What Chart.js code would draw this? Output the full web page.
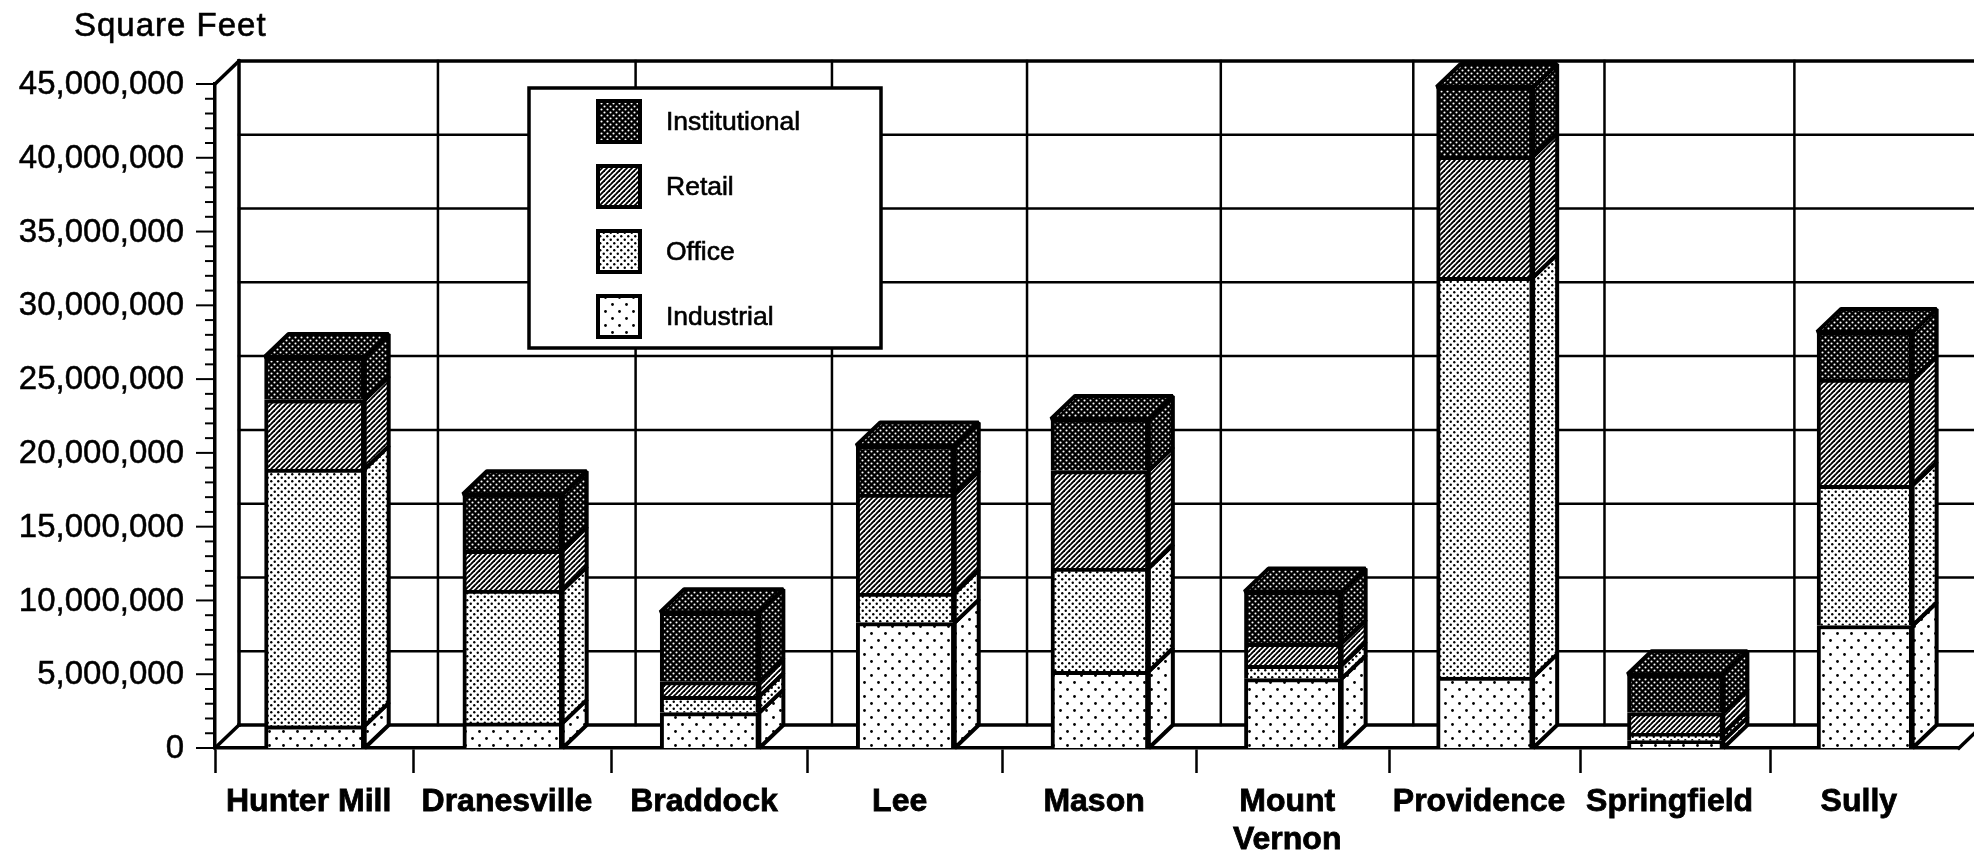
<!DOCTYPE html>
<html>
<head>
<meta charset="utf-8">
<title>Square Feet by District</title>
<style>
  html, body { margin: 0; padding: 0; background: #fff; }
  canvas { display: block; }
</style>
<script src="https://cdn.jsdelivr.net/npm/chart.js@4"></script>
</head>
<body>
<canvas id="districtChart" width="1974" height="851"></canvas>
<script>
const districts = ['Hunter Mill', 'Dranesville', 'Braddock', 'Lee', 'Mason', ['Mount', 'Vernon'], 'Providence', 'Springfield', 'Sully'];
const industrial = [1500000, 1700000, 2400000, 8500000, 5200000, 4700000, 4800000, 500000, 8300000];
const office = [17400000, 9000000, 1100000, 2000000, 7000000, 900000, 27100000, 500000, 9500000];
const retail = [4700000, 2700000, 1000000, 6700000, 6600000, 1500000, 8200000, 1400000, 7200000];
const institutional = [2900000, 3800000, 4700000, 3300000, 3500000, 3500000, 4700000, 2600000, 3200000];
const axisTitle = 'Square Feet';

const depthX = 24;
const depthY = 23;
const fontName = '"Liberation Sans", Arial, sans-serif';

// fill patterns, the scan is all black and white halftones
let makeTile = (size, paint) => {
  const tile = document.createElement('canvas');
  tile.width = size;
  tile.height = size;
  paint(tile.getContext('2d'));
  return document.createElement('canvas').getContext('2d').createPattern(tile, 'repeat');
};
let dots = (ctx, color, radius, spots) => {
  ctx.fillStyle = color;
  spots.forEach((s) => {
    ctx.beginPath();
    ctx.arc(s[0], s[1], radius, 0, Math.PI * 2);
    ctx.fill();
  });
};

const industrialFill = makeTile(14, (ctx) => {
  ctx.fillStyle = '#fff';
  ctx.fillRect(0, 0, 14, 14);
  dots(ctx, '#000', 1.4, [[3.5, 3.5], [10.5, 10.5]]);
});
const officeFill = makeTile(7, (ctx) => {
  ctx.fillStyle = '#fff';
  ctx.fillRect(0, 0, 7, 7);
  dots(ctx, '#000', 1.2, [[1.75, 1.75], [5.25, 5.25]]);
});
const retailFill = makeTile(5, (ctx) => {
  ctx.fillStyle = '#fff';
  ctx.fillRect(0, 0, 5, 5);
  ctx.strokeStyle = '#000';
  ctx.lineWidth = 1.9;
  [0, 5, 10].forEach((k) => {
    ctx.beginPath();
    ctx.moveTo(k + 1, -1);
    ctx.lineTo(-1, k + 1);
    ctx.stroke();
  });
});
const institutionalFill = makeTile(6, (ctx) => {
  ctx.fillStyle = '#000';
  ctx.fillRect(0, 0, 6, 6);
  dots(ctx, '#fff', 1.05, [[1.5, 1.5], [4.5, 4.5]]);
});

// the scanned page is slightly bent, the bands get narrower to the right
class BentCategoryScale extends Chart.CategoryScale {
  getPixelForDecimal(decimal) {
    return super.getPixelForDecimal(decimal + 0.03 * decimal * (1 - decimal));
  }
}
BentCategoryScale.id = 'bentCategory';
BentCategoryScale.defaults = Chart.CategoryScale.defaults;
Chart.register(BentCategoryScale);

let line = (ctx, x1, y1, x2, y2, width) => {
  ctx.lineWidth = width;
  ctx.beginPath();
  ctx.moveTo(x1, y1);
  ctx.lineTo(x2, y2);
  ctx.stroke();
};

const wallPlugin = {
  id: 'wall',
  beforeDatasetsDraw(chart) {
    const ctx = chart.ctx;
    const area = chart.chartArea;
    const xScale = chart.scales.x;
    const yScale = chart.scales.y;
    ctx.save();
    ctx.strokeStyle = '#000';
    ctx.lineCap = 'square';

    yScale.ticks.forEach((tick) => {
      const y = yScale.getPixelForValue(tick.value);
      const major = tick.value % 5000000 === 0;
      line(ctx, area.left - (major ? 18 : 9), y, area.left, y, 2);
      if (major) {
        const heavy = tick.value === 0 || tick.value === 45000000;
        line(ctx, area.left + depthX, y - depthY, chart.width, y - depthY, heavy ? 3.5 : 2.5);
      }
    });

    districts.forEach((d, i) => {
      const x = xScale.getPixelForValue(i - 0.5) + depthX;
      line(ctx, x, area.top - depthY, x, area.bottom - depthY, i === 0 ? 3.5 : 2.5);
    });

    // left wall and floor edges
    line(ctx, area.left, area.top, area.left + depthX, area.top - depthY, 3.5);
    line(ctx, area.left, area.bottom, area.left + depthX, area.bottom - depthY, 3.5);
    line(ctx, area.right, area.bottom, area.right + depthX, area.bottom - depthY, 3.5);
    ctx.restore();
  },
};

const blockPlugin = {
  id: 'blocks',
  afterDatasetsDraw(chart) {
    const ctx = chart.ctx;
    ctx.save();
    ctx.strokeStyle = '#000';
    ctx.lineWidth = 4;
    ctx.lineJoin = 'bevel';
    chart.data.datasets.forEach((dataset, d) => {
      chart.getDatasetMeta(d).data.forEach((bar) => {
        const left = bar.x - bar.width / 2;
        const right = bar.x + bar.width / 2;
        ctx.fillStyle = dataset.backgroundColor;

        ctx.beginPath();
        ctx.moveTo(right, bar.base);
        ctx.lineTo(right + depthX, bar.base - depthY);
        ctx.lineTo(right + depthX, bar.y - depthY);
        ctx.lineTo(right, bar.y);
        ctx.closePath();
        ctx.fill();
        ctx.stroke();

        if (d === chart.data.datasets.length - 1) {
          ctx.beginPath();
          ctx.moveTo(left, bar.y);
          ctx.lineTo(left + depthX, bar.y - depthY);
          ctx.lineTo(right + depthX, bar.y - depthY);
          ctx.lineTo(right, bar.y);
          ctx.closePath();
          ctx.fill();
          ctx.stroke();
        }
      });
    });
    ctx.restore();
  },
};

const keyPlugin = {
  id: 'key',
  afterDraw(chart) {
    const ctx = chart.ctx;
    ctx.save();
    ctx.fillStyle = '#fff';
    ctx.strokeStyle = '#000';
    ctx.lineWidth = 3.5;
    ctx.fillRect(529, 88, 352, 260);
    ctx.strokeRect(529, 88, 352, 260);

    ctx.font = '26.5px ' + fontName;
    ctx.textBaseline = 'middle';
    ctx.textAlign = 'left';
    [...chart.data.datasets].reverse().forEach((dataset, i) => {
      const top = 101 + i * 65;
      ctx.fillStyle = dataset.backgroundColor;
      ctx.lineWidth = 4;
      ctx.fillRect(598, top, 42, 41);
      ctx.strokeRect(598, top, 42, 41);
      ctx.fillStyle = '#000';
      ctx.lineWidth = 0.6;
      ctx.fillText(dataset.label, 666, top + 22);
      ctx.strokeText(dataset.label, 666, top + 22);
    });

    ctx.font = '33px ' + fontName;
    ctx.letterSpacing = '1px';
    ctx.fillText(axisTitle, 74, 27);
    ctx.strokeText(axisTitle, 74, 27);
    ctx.restore();
  },
};

new Chart(document.getElementById('districtChart'), {
  type: 'bar',
  data: {
    labels: districts,
    datasets: [
      { label: 'Industrial', data: industrial, backgroundColor: industrialFill },
      { label: 'Office', data: office, backgroundColor: officeFill },
      { label: 'Retail', data: retail, backgroundColor: retailFill },
      { label: 'Institutional', data: institutional, backgroundColor: institutionalFill },
    ],
  },
  plugins: [wallPlugin, blockPlugin, keyPlugin],
  options: {
    responsive: false,
    animation: false,
    layout: { padding: { top: 84, right: 15, left: 0, bottom: 0 } },
    datasets: {
      bar: { barThickness: 'flex', categoryPercentage: 0.505, barPercentage: 1, borderColor: '#000', borderWidth: 4 },
    },
    plugins: {
      legend: { display: false },
      tooltip: { enabled: false },
    },
    scales: {
      x: {
        type: 'bentCategory',
        stacked: true,
        offset: true,
        afterFit: (scale) => { scale.height = 103; },
        border: { color: '#000', width: 3.5 },
        grid: { drawOnChartArea: false, offset: true, color: '#000', tickLength: 25, tickWidth: 2.5, tickColor: '#000' },
        ticks: {
          color: '#000',
          padding: 10,
          labelOffset: -6,
          maxRotation: 0,
          autoSkip: false,
          textStrokeColor: '#000',
          textStrokeWidth: 0.8,
          font: { family: fontName, size: 32, weight: 'bold', lineHeight: 1.2 },
        },
      },
      y: {
        stacked: true,
        min: 0,
        max: 45000000,
        afterFit: (scale) => { scale.width = 215; },
        border: { color: '#000', width: 3.5 },
        grid: { display: false, tickLength: 18 },
        ticks: {
          stepSize: 1000000,
          autoSkip: false,
          color: '#000',
          padding: 13,
          labelOffset: 1,
          textStrokeColor: '#000',
          textStrokeWidth: 0.5,
          font: { family: fontName, size: 33 },
          callback: (value) => (value % 5000000 === 0 ? value.toLocaleString('en-US') : ''),
        },
      },
    },
  },
});
</script>
</body>
</html>
